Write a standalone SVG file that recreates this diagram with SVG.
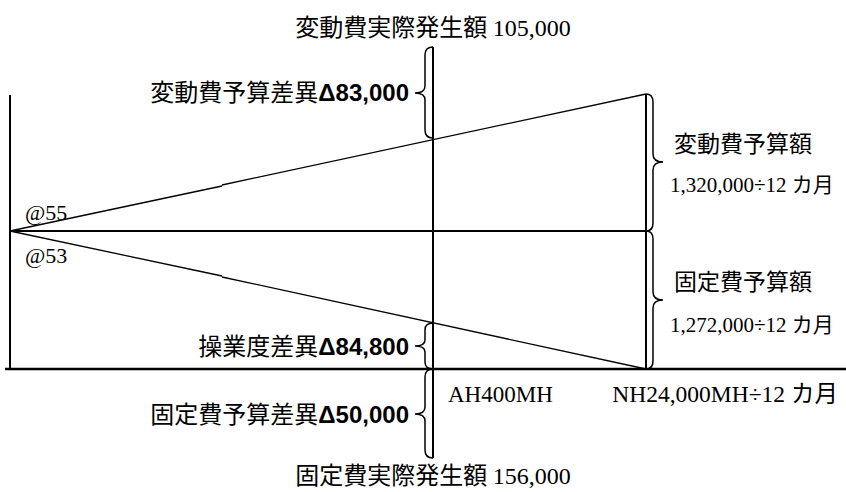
<svg xmlns="http://www.w3.org/2000/svg" width="846" height="492" viewBox="0 0 846 492">
<style>
.jp{font-family:"Noto Sans CJK JP","Noto Sans CJK SC",sans-serif;fill:#000}
.se{font-family:"Liberation Serif","Noto Sans CJK JP",serif}
.sb{font-family:"Liberation Sans",sans-serif;font-weight:bold}
.ln{stroke:#000;fill:none}
.br{stroke:#000;fill:none;stroke-width:1.5}
</style>
<rect width="846" height="492" fill="#fff"/>
<g id="connectors">
<line class="ln" x1="433" y1="47" x2="433" y2="458" stroke-width="2"/>
<line class="ln" x1="10" y1="95" x2="10" y2="370" stroke-width="2"/>
<line class="ln" x1="9" y1="231" x2="646" y2="231" stroke-width="2"/>
<line class="ln" x1="5" y1="369" x2="846" y2="369" stroke-width="2.5"/>
<line class="ln" x1="646" y1="94" x2="646" y2="369" stroke-width="2"/>
<path class="ln" d="M10,231 L222,186 M222,185 L646,94" stroke-width="1.3"/>
<path class="ln" d="M10,231 L222,276 M222,277 L646,369" stroke-width="1.3"/>
</g>
<g id="brace-var-diff">
<path class="br" d="M433,47 Q425,47 425,55 L425,86 Q425,93 415,93 Q425,93 425,100 L425,130 Q425,138 433,138"/>
<text class="jp" x="409" y="101" font-size="24" text-anchor="end">変動費予算差異<tspan class="sb">Δ83,000</tspan></text>
</g>
<g id="brace-op-diff">
<path class="br" d="M433,323 Q425,323 425,330 L425,340 Q425,346 415,346 Q425,346 425,352 L425,362 Q425,369 433,369"/>
<text class="jp" x="409" y="355" font-size="24" text-anchor="end">操業度差異<tspan class="sb">Δ84,800</tspan></text>
</g>
<g id="brace-fix-diff">
<path class="br" d="M433,369 Q425,369 425,377 L425,407 Q425,414 415,414 Q425,414 425,421 L425,450 Q425,458 433,458"/>
<text class="jp" x="409" y="423" font-size="24" text-anchor="end">固定費予算差異<tspan class="sb">Δ50,000</tspan></text>
</g>
<g id="brace-var-budget">
<path class="br" d="M646,94 Q653,94 653,102 L653,154 Q653,162 663,162 Q653,162 653,170 L653,223 Q653,231 646,231"/>
<text class="jp" x="674" y="152" font-size="23">変動費予算額</text>
<text class="se" x="670" y="192" font-size="21">1,320,000÷12 <tspan class="jp">カ月</tspan></text>
</g>
<g id="brace-fix-budget">
<path class="br" d="M646,231 Q653,231 653,239 L653,292 Q653,300 663,300 Q653,300 653,308 L653,361 Q653,369 646,369"/>
<text class="jp" x="674" y="290" font-size="23">固定費予算額</text>
<text class="se" x="670" y="332" font-size="21">1,272,000÷12 <tspan class="jp">カ月</tspan></text>
</g>
<g id="top-title">
<text class="jp" x="433" y="36" font-size="24" text-anchor="middle">変動費実際発生額 <tspan class="se">105,000</tspan></text>
</g>
<g id="bottom-title">
<text class="jp" x="433" y="484" font-size="24" text-anchor="middle">固定費実際発生額 <tspan class="se">156,000</tspan></text>
</g>
<g id="rates">
<text class="se" x="25" y="220" font-size="22">@55</text>
<text class="se" x="25" y="263" font-size="22">@53</text>
</g>
<g id="axis-labels">
<text class="se" x="448" y="402" font-size="23">AH400MH</text>
<text class="se" x="838" y="402" font-size="23.5" text-anchor="end">NH24,000MH÷12 <tspan class="jp">カ月</tspan></text>
</g>
</svg>
